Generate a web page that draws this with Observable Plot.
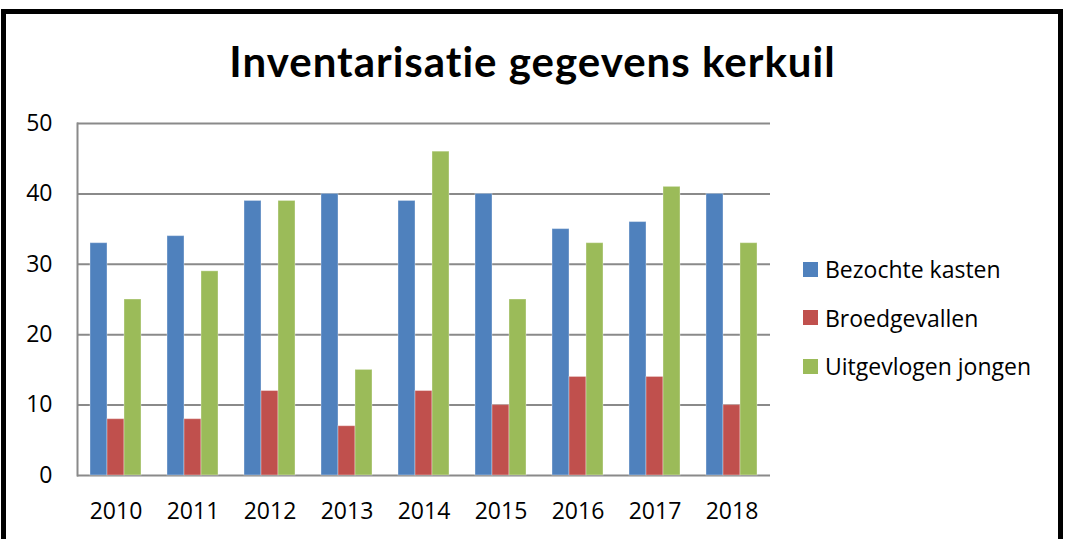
<!DOCTYPE html>
<html>
<head>
<meta charset="utf-8">
<script src="https://cdn.jsdelivr.net/npm/d3@7"></script>
<script src="https://cdn.jsdelivr.net/npm/@observablehq/plot@0.6"></script>
<style>
  html, body { margin: 0; padding: 0; background: #fff; }
  #wrap { position: relative; width: 1065px; height: 539px; overflow: hidden; background: #fff; font-family: "Open Sans", Lato, sans-serif; }
  #border { position: absolute; left: 1px; top: 9px; width: 1052px; height: 620px; border: 5px solid #000; }
  #title { position: absolute; left: 0; top: 40px; width: 1065px; text-align: center; font-family: Lato, "Open Sans", sans-serif; font-weight: bold; font-size: 42px; line-height: 42px; color: #000; white-space: nowrap; }
  #chart { position: absolute; left: 0; top: 100px; }
  #legend { position: absolute; left: 803px; top: 258px; font-size: 23px; line-height: 22px; color: #000; }
  .row { display: flex; align-items: center; height: 22px; margin-bottom: 26.5px; white-space: nowrap; }
  .sw { width: 15px; height: 15px; margin-right: 7px; }
</style>
</head>
<body>
<div id="wrap">
  <div id="border"></div>
  <div id="title"></div>
  <div id="chart"></div>
  <div id="legend"></div>
</div>
<script>
const titleText = "Inventarisatie gegevens kerkuil";
const years = ["2010", "2011", "2012", "2013", "2014", "2015", "2016", "2017", "2018"];
const seriesNames = ["Bezochte kasten", "Broedgevallen", "Uitgevlogen jongen"];
const bezochteKasten = [33, 34, 39, 40, 39, 40, 35, 36, 40];
const broedgevallen = [8, 8, 12, 7, 12, 10, 14, 14, 10];
const uitgevlogenJongen = [25, 29, 39, 15, 46, 25, 33, 41, 33];
const colors = ["#4F81BD", "#C0504D", "#9BBB59"];
const yTicks = [0, 10, 20, 30, 40, 50];

const seriesValues = [bezochteKasten, broedgevallen, uitgevlogenJongen];
const data = years.flatMap((year, i) =>
  seriesNames.map((s, k) => ({year, series: s, value: seriesValues[k][i]}))
);

// Title, fitted to the reference width
const titleEl = document.getElementById("title");
titleEl.textContent = titleText;
const ctx = document.createElement("canvas").getContext("2d");
ctx.font = "bold 42px Lato";
const w = ctx.measureText(titleText).width;
titleEl.style.letterSpacing = ((607 - w) / titleText.length) + "px";

const gap = 13; // half of the gap between year groups (px)
const chart = Plot.plot({
  width: 790,
  height: 439,
  marginTop: 23,
  marginBottom: 64,
  marginLeft: 77,
  marginRight: 20,
  style: {fontFamily: "'Open Sans', Lato, sans-serif", fontSize: "23px", color: "#000", background: "transparent"},
  fx: {domain: years, paddingInner: 26 / 77, paddingOuter: 13 / 77, label: null, tickSize: 0, tickPadding: 27, axis: "bottom"},
  x: {domain: seriesNames, axis: null, padding: 0},
  y: {domain: [0, 50], label: null},
  color: {domain: seriesNames, range: colors},
  marks: [
    Plot.ruleY(yTicks, {stroke: "#8a8a8a", strokeWidth: 2, strokeOpacity: 1, insetLeft: -gap, insetRight: -gap}),
    Plot.frame({anchor: "left", facetAnchor: "left", stroke: "#8a8a8a", strokeWidth: 2, strokeOpacity: 1, insetLeft: -gap}),
    Plot.axisY({ticks: yTicks, tickSize: 0, tickPadding: 25 + gap, label: null}),
    Plot.barY(data, {fx: "year", x: "series", y: "value", fill: "series", stroke: "#ffffff", strokeOpacity: 0.35, strokeWidth: 1})
  ]
});
document.getElementById("chart").appendChild(chart);

const legend = document.getElementById("legend");
seriesNames.forEach((s, k) => {
  const row = document.createElement("div");
  row.className = "row";
  const sw = document.createElement("div");
  sw.className = "sw";
  sw.style.background = colors[k];
  const t = document.createElement("span");
  t.textContent = s;
  row.appendChild(sw);
  row.appendChild(t);
  legend.appendChild(row);
});
</script>
</body>
</html>
